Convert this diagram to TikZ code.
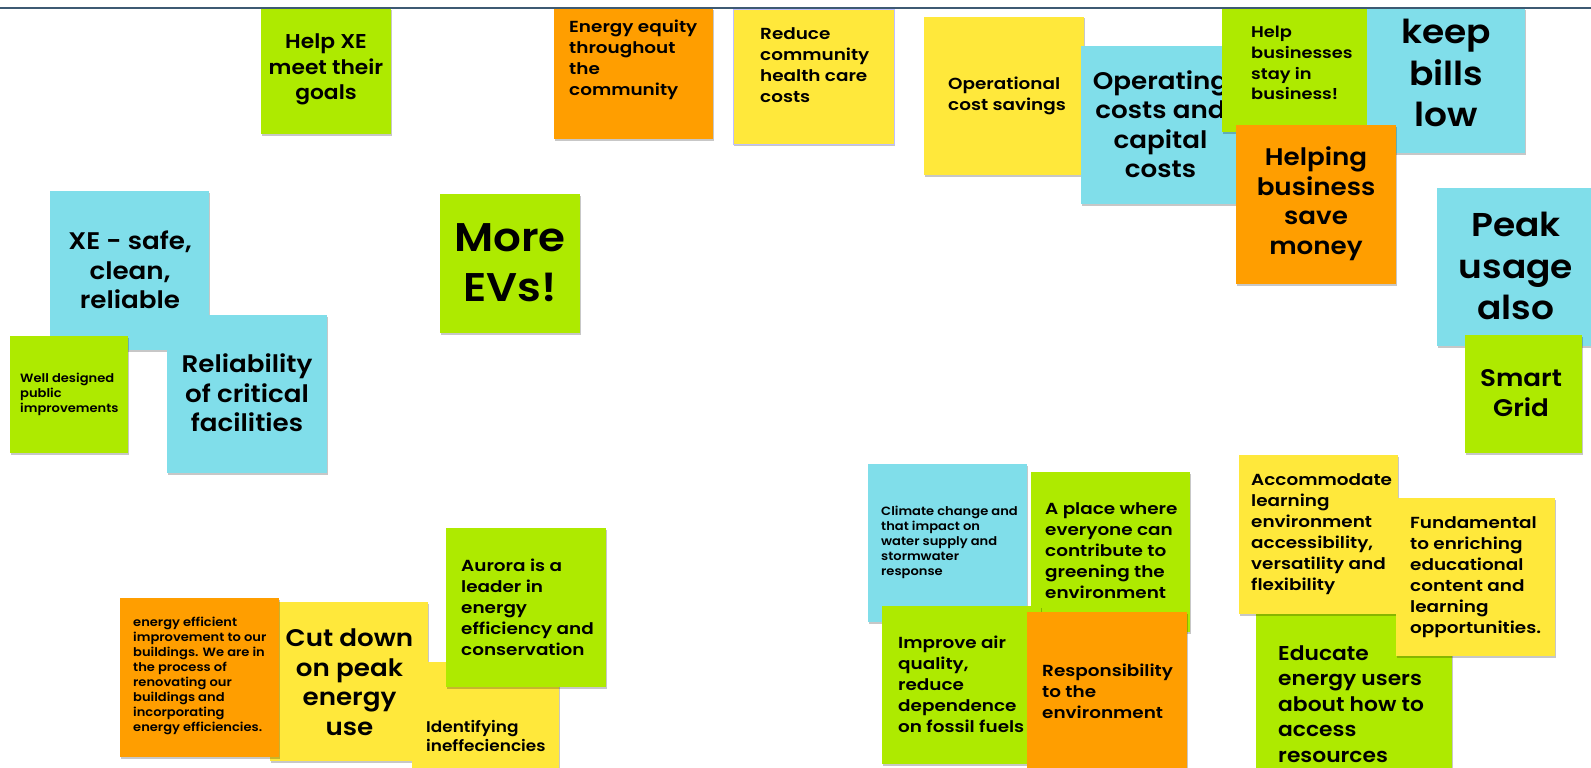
\documentclass[tikz,border=0pt]{standalone}
\usepackage{fontspec}
\setmainfont{Poppins}[UprightFont=* SemiBold, BoldFont=* Bold, FakeStretch=1.09]
\newfontfamily\widefam{Poppins}[UprightFont=* SemiBold, FakeStretch=1.15]
\usetikzlibrary{shadows}
\definecolor{ngreen}{HTML}{AEEA00}
\definecolor{nyellow}{HTML}{FFE83B}
\definecolor{norange}{HTML}{FF9E00}
\definecolor{nblue}{HTML}{80DEEA}
\definecolor{topline}{HTML}{3D5A73}
\tikzset{
  note/.style={draw=none, inner sep=0pt, anchor=north west,
    drop shadow={shadow xshift=0.8pt, shadow yshift=-1.3pt, opacity=0.22, fill=black}},
  txt/.style={inner sep=0pt, text=black},
  lt/.style={txt, align=left, anchor=west},
  ct/.style={txt, align=center, anchor=center},
  fa/.style={font=\fontsize{12}{15}\selectfont},
  fb/.style={font=\fontsize{15.5}{19}\selectfont},
  fbb/.style={font=\widefam\fontsize{15.5}{20.7}\selectfont},
  fc/.style={font=\widefam\fontsize{16}{21}\selectfont},
  fd/.style={font=\fontsize{20}{25.5}\selectfont},
  fe/.style={font=\fontsize{24}{29.5}\selectfont},
  ff/.style={font=\fontsize{33}{41.6}\selectfont},
  fg/.style={font=\fontsize{40}{50}\selectfont},
}
\begin{document}
\begin{tikzpicture}[x=1pt,y=-1pt]
\useasboundingbox (0,0) rectangle (1591,768);
\clip (0,0) rectangle (1591,768);
\fill[white] (0,0) rectangle (1591,768);
% top row
\node[note, fill=ngreen, minimum width=130pt, minimum height=125pt] (n1) at (261,9) {};
\node[ct, fd] (t1) at (326,69.5) {Help XE\\meet their\\goals};
\node[note, fill=norange, minimum width=159pt, minimum height=130pt] (n2) at (554,9) {};
\node[lt, fc] (t2) at (569,60) {Energy equity\\throughout\\the\\community};
\node[note, fill=nyellow, draw=blue!25, line width=0.8pt, minimum width=161pt, minimum height=135pt] (n3) at (733,9) {};
\node[lt, fc] (t3) at (760,65) {Reduce\\community\\health care\\costs};
\node[note, fill=nyellow, minimum width=160pt, minimum height=158pt] (n4) at (924,17) {};
\node[lt, fc] (t4) at (948,96) {Operational\\cost savings};
\node[note, fill=nblue, minimum width=159pt, minimum height=158pt] (n5) at (1081,46) {};
\node[ct, fe] (t5) at (1160.5,124.3) {Operating\\costs and\\capital\\costs};
\node[note, fill=ngreen, minimum width=148pt, minimum height=123pt] (n6) at (1222,9) {};
\node[lt, fbb] (t6) at (1251,63) {Help\\businesses\\stay in\\business!};
\node[note, fill=nblue, minimum width=158pt, minimum height=144pt] (n7) at (1367,9) {};
\node[ct, ff] (t7) at (1446,73) {keep\\bills\\low};
\node[note, fill=norange, minimum width=160pt, minimum height=159pt] (n8) at (1236,125) {};
\node[ct, fe] (t8) at (1316,203.5) {Helping\\business\\save\\money};
\node[note, fill=nblue, minimum width=160pt, minimum height=158pt] (n9) at (1437,188) {};
\node[ct, ff] (t9) at (1516,266) {Peak\\usage\\also};
\node[note, fill=ngreen, minimum width=117pt, minimum height=118pt] (n10) at (1465,335) {};
\node[ct, fe] (t10) at (1521,393) {Smart\\Grid};
% left group
\node[note, fill=nblue, minimum width=159pt, minimum height=159pt] (n11) at (50,191) {};
\node[ct, fe] (t11) at (130,270) {XE - safe,\\clean,\\reliable};
\node[note, fill=ngreen, minimum width=118pt, minimum height=117pt] (n12) at (10,336) {};
\node[lt, fa] (t12) at (20,394) {Well designed\\public\\improvements};
\node[note, fill=nblue, minimum width=160pt, minimum height=158pt] (n13) at (167,315) {};
\node[ct, fe] (t13) at (247,393) {Reliability\\of critical\\facilities};
\node[note, fill=ngreen, minimum width=140pt, minimum height=139pt] (n14) at (440,194) {};
\node[ct, fg] (t14) at (510,263) {More\\EVs!};
% bottom left group
\node[note, fill=nyellow, minimum width=158pt, minimum height=159pt] (n16) at (270,602) {};
\node[ct, fe] (t16) at (349.5,682) {Cut down\\on peak\\energy\\use};
\node[note, fill=norange, minimum width=159pt, minimum height=159pt] (n15) at (120,598) {};
\node[lt, fa] (t15) at (133,676) {energy efficient\\improvement to our\\buildings. We are in\\the process of\\renovating our\\buildings and\\incorporating\\energy efficiencies.};
\node[note, fill=nyellow, minimum width=147pt, minimum height=120pt] (n17) at (412,662) {};
\node[lt, fb] (t17) at (426,735.6) {Identifying\\ineffeciencies};
\node[note, fill=ngreen, minimum width=160pt, minimum height=159pt] (n18) at (446,528) {};
\node[lt, fc] (t18) at (461,607) {Aurora is a\\leader in\\energy\\efficiency and\\conservation};
% bottom middle group
\node[note, fill=nblue, minimum width=159pt, minimum height=158pt] (n19) at (868,464) {};
\node[lt, fa] (t19) at (881,542) {Climate change and\\that impact on\\water supply and\\stormwater\\response};
\node[note, fill=ngreen, minimum width=159pt, minimum height=160pt] (n20) at (1031,472) {};
\node[lt, fc] (t20) at (1045,551) {A place where\\everyone can\\contribute to\\greening the\\environment};
\node[note, fill=ngreen, minimum width=159pt, minimum height=158pt] (n21) at (882,606) {};
\node[lt, fc] (t21) at (898,684) {Improve air\\quality,\\reduce\\dependence\\on fossil fuels};
\node[note, fill=norange, minimum width=160pt, minimum height=160pt] (n22) at (1027,612) {};
\node[lt, fc] (t22) at (1042,691.5) {Responsibility\\to the\\environment};
% bottom right group
\node[note, fill=ngreen, minimum width=196pt, minimum height=160pt] (n25) at (1256,614) {};
\node[lt, fd] (t25) at (1278,703.7) {Educate\\energy users\\about how to\\access\\resources};
\node[note, fill=nyellow, minimum width=159pt, minimum height=159pt] (n23) at (1239,455) {};
\node[lt, fc] (t23) at (1251,534) {Accommodate\\learning\\environment\\accessibility,\\versatility and\\flexibility};
\node[note, fill=nyellow, minimum width=159pt, minimum height=158pt] (n24) at (1396,498) {};
\node[lt, fc] (t24) at (1410,577) {Fundamental\\to enriching\\educational\\content and\\learning\\opportunities.};
% top strip and line
\fill[white] (0,0) rectangle (1591,8);
\draw[topline, line width=1.5pt] (0,8) -- (1591,8);
\end{tikzpicture}
\end{document}
